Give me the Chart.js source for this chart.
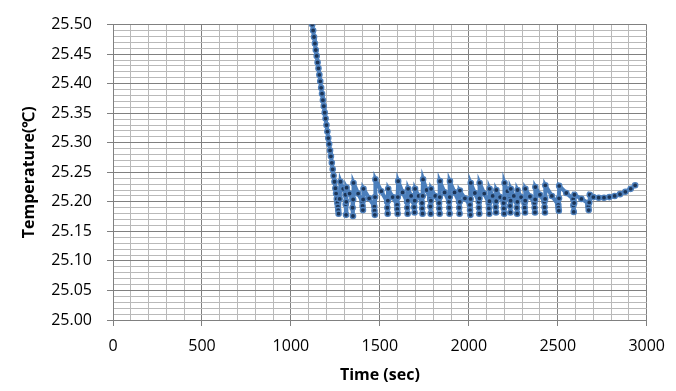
<!DOCTYPE html>
<html>
<head>
<meta charset="utf-8">
<script src="https://cdn.jsdelivr.net/npm/chart.js@4"></script>
<style>
  html, body { margin: 0; padding: 0; background: #fff; }
</style>
</head>
<body>
<canvas id="tempChart" width="676" height="391"></canvas>
<script>
// Time (sec) and temperature readings
const timeSec = [
    1120, 1125, 1130, 1135, 1140, 1145, 1150, 1155, 1160, 1165, 1170, 1175, 1180, 1185, 1190, 1195, 1200, 1205,
    1210, 1215, 1220, 1225, 1230, 1235, 1240, 1245, 1250, 1254, 1258, 1261, 1264, 1266, 1268, 1274,
    1279, 1294, 1307, 1308, 1310, 1311,
    1313, 1330, 1346, 1347, 1349, 1350,
    1352, 1378, 1402, 1403, 1405, 1406,
    1408, 1440, 1469, 1470, 1472, 1473,
    1475, 1508, 1541, 1542, 1544, 1545,
    1547, 1572, 1597, 1598, 1600, 1601,
    1603, 1628, 1653, 1654, 1656, 1657,
    1659, 1676, 1692, 1693, 1695, 1696,
    1698, 1718, 1737, 1738, 1740, 1741,
    1743, 1763, 1783, 1784, 1786, 1787,
    1788, 1811, 1833, 1834, 1836, 1837,
    1838, 1864, 1889, 1890, 1892, 1893,
    1894, 1920, 1945, 1946, 1948, 1949,
    1950, 1978, 2006, 2007, 2009, 2010,
    2011, 2034, 2056, 2057, 2059, 2060,
    2061, 2087, 2112, 2113, 2115, 2116,
    2117, 2134, 2150, 2151, 2153, 2154,
    2155, 2176, 2196, 2197, 2199, 2200,
    2201, 2217, 2231, 2232, 2234, 2235,
    2236, 2253, 2269, 2270, 2272, 2273,
    2274, 2294, 2313, 2314, 2316, 2317,
    2318, 2344, 2369, 2370, 2372, 2373,
    2374, 2400, 2425, 2426, 2428, 2429,
    2430, 2467, 2503, 2504, 2506, 2507,
    2508, 2548, 2587, 2588, 2590, 2592,
    2594, 2633, 2671, 2672, 2674, 2677,
    2680, 2700, 2730, 2760, 2790, 2820, 2850, 2880, 2910, 2935
];
const tempC = [
    25.500, 25.490, 25.479, 25.468, 25.457, 25.447, 25.436, 25.426, 25.415, 25.404, 25.393, 25.383, 25.372, 25.362, 25.351, 25.341, 25.330, 25.319,
    25.308, 25.298, 25.287, 25.277, 25.266, 25.255, 25.244, 25.234, 25.223, 25.214, 25.205, 25.198, 25.192, 25.186, 25.180, 25.205,
    25.234, 25.222, 25.212, 25.196, 25.178, 25.200,
    25.224, 25.214, 25.205, 25.190, 25.176, 25.204,
    25.232, 25.214, 25.200, 25.193, 25.186, 25.204,
    25.222, 25.206, 25.192, 25.185, 25.178, 25.208,
    25.238, 25.218, 25.200, 25.190, 25.180, 25.202,
    25.222, 25.208, 25.195, 25.188, 25.180, 25.208,
    25.235, 25.216, 25.200, 25.190, 25.180, 25.202,
    25.222, 25.210, 25.200, 25.191, 25.182, 25.202,
    25.222, 25.210, 25.198, 25.189, 25.180, 25.210,
    25.238, 25.220, 25.205, 25.192, 25.180, 25.202,
    25.222, 25.210, 25.198, 25.189, 25.180, 25.208,
    25.235, 25.216, 25.200, 25.190, 25.180, 25.208,
    25.235, 25.216, 25.200, 25.190, 25.180, 25.200,
    25.219, 25.206, 25.195, 25.186, 25.178, 25.205,
    25.232, 25.215, 25.200, 25.190, 25.180, 25.206,
    25.232, 25.214, 25.198, 25.189, 25.180, 25.201,
    25.222, 25.210, 25.200, 25.191, 25.182, 25.201,
    25.220, 25.208, 25.198, 25.189, 25.180, 25.206,
    25.232, 25.218, 25.205, 25.193, 25.182, 25.202,
    25.222, 25.210, 25.200, 25.190, 25.180, 25.200,
    25.220, 25.208, 25.198, 25.190, 25.182, 25.202,
    25.222, 25.209, 25.198, 25.190, 25.182, 25.204,
    25.225, 25.212, 25.200, 25.191, 25.182, 25.205,
    25.228, 25.210, 25.195, 25.190, 25.185, 25.206,
    25.227, 25.215, 25.205, 25.194, 25.183, 25.198,
    25.212, 25.205, 25.198, 25.192, 25.186, 25.199,
    25.212, 25.208, 25.207, 25.207, 25.208, 25.210, 25.213, 25.217, 25.222, 25.228
];

const xMin = 0, xMax = 3000, xMinorStep = 100, xMajorStep = 500;
const yMin = 25.0, yMax = 25.5, yMinorStep = 0.01;

const majorGrid = "#808080";
const minorGrid = "#b9b9b9";

function isMajorY(v) {
    return Math.round(v * 100) % 5 === 0;
}
function isMajorX(v) {
    return Math.round(v) % xMajorStep === 0;
}

const points = timeSec.map((t, i) => ({ x: t, y: tempC[i] }));

const ctx = document.getElementById("tempChart").getContext("2d");

new Chart(ctx, {
    type: "scatter",
    data: {
        datasets: [
            {
                label: "Temperature",
                data: points,
                showLine: true,
                borderColor: "#4a7ebb",
                borderWidth: 4,
                pointRadius: 2.6,
                pointBackgroundColor: "#1c3557",
                pointBorderColor: "#4f81bd",
                pointBorderWidth: 1.4,
                tension: 0,
            },
        ],
    },
    options: {
        responsive: false,
        animation: false,
        layout: {
            padding: { top: 12, right: 23, left: 0, bottom: 0 },
        },
        plugins: {
            legend: { display: false },
            tooltip: { enabled: false },
        },
        scales: {
            x: {
                type: "linear",
                min: xMin,
                max: xMax,
                afterFit: (scale) => { scale.height = 71; },
                ticks: {
                    stepSize: xMinorStep,
                    autoSkip: false,
                    maxRotation: 0,
                    padding: 11,
                    color: "#000",
                    font: { family: "Open Sans", size: 16 },
                    callback: (v) => (isMajorX(v) ? String(v) : ""),
                },
                grid: {
                    color: (c) => (c.tick && isMajorX(c.tick.value) ? majorGrid : minorGrid),
                    tickColor: (c) => (c.tick && isMajorX(c.tick.value) ? majorGrid : "rgba(0,0,0,0)"),
                    tickLength: 6,
                    lineWidth: 1,
                },
                border: { color: majorGrid },
                title: {
                    display: true,
                    text: "Time (sec)",
                    color: "#000",
                    font: { family: "Open Sans", size: 16, weight: "bold" },
                    padding: { top: 4, bottom: 6 },
                },
            },
            y: {
                type: "linear",
                min: yMin,
                max: yMax,
                afterFit: (scale) => { scale.width = 113; },
                ticks: {
                    stepSize: yMinorStep,
                    autoSkip: false,
                    padding: 15,
                    color: "#000",
                    font: { family: "Open Sans", size: 16 },
                    callback: (v) => (isMajorY(v) ? v.toFixed(2) : ""),
                },
                grid: {
                    color: (c) => (c.tick && isMajorY(c.tick.value) ? majorGrid : minorGrid),
                    tickColor: (c) => (c.tick && isMajorY(c.tick.value) ? majorGrid : "rgba(0,0,0,0)"),
                    tickLength: 6,
                    lineWidth: 1,
                },
                border: { color: majorGrid },
                title: {
                    display: true,
                    text: "Temperature(℃)",
                    color: "#000",
                    font: { family: "Open Sans", size: 16, weight: "bold" },
                    padding: { top: 20, bottom: 0 },
                },
            },
        },
    },
});
</script>
</body>
</html>
